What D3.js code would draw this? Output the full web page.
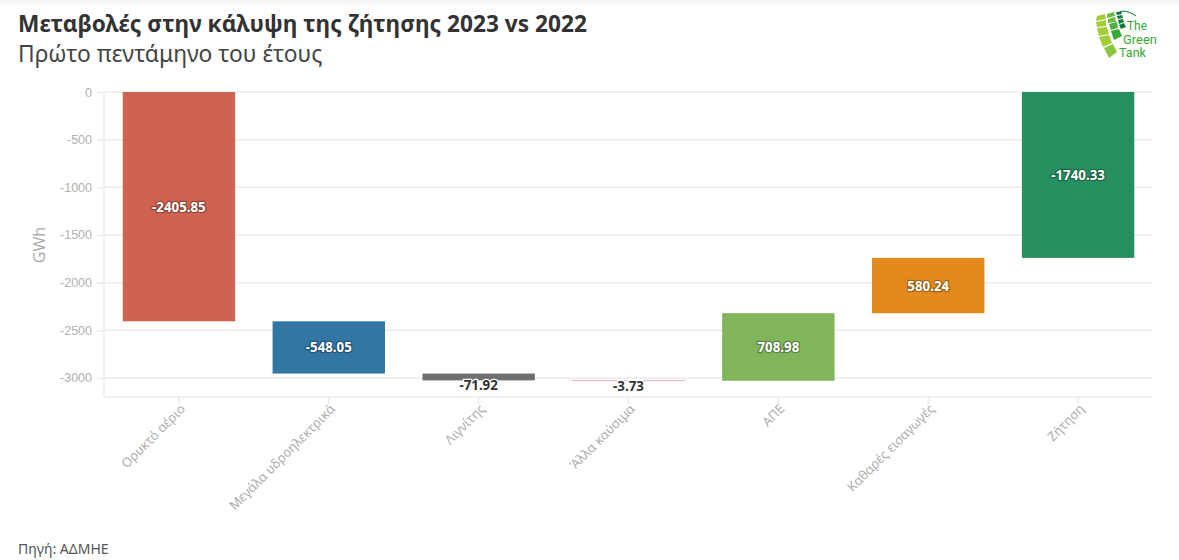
<html>
<head>
<meta charset="utf-8">
<script src="https://cdnjs.cloudflare.com/ajax/libs/d3/7.8.5/d3.min.js"></script>
<style>
  body { margin: 0; background: white; overflow: hidden; }
  svg { display: block; }
  text { font-family: "Noto Sans", "Open Sans", sans-serif; }
  .axis-label { font-family: "Liberation Sans", Arial, sans-serif; font-size: 12.5px; fill: #b0b0b0; }
</style>
</head>
<body>
<div id="chart"></div>
<script>
var categories = ["Ορυκτό αέριο", "Μεγάλα υδροηλεκτρικά", "Λιγνίτης", "Άλλα καύσιμα", "ΑΠΕ", "Καθαρές εισαγωγές", "Ζήτηση"];
var changes = [-2405.85, -548.05, -71.92, -3.73, 708.98, 580.24, -1740.33];
var colors = ["#cf6251", "#3277a3", "#6f6f6f", "#e9b9c9", "#80b55c", "#e38a1e", "#268f60"];
var isTotal = [false, false, false, false, false, false, true];
var yTicks = [0, -500, -1000, -1500, -2000, -2500, -3000];

var W = 1179, H = 560;
var margin = {left: 104, right: 26, top: 92, bottom: 163};

var svg = d3.select("#chart").append("svg").attr("width", W).attr("height", H);

// faint shadow along the top of the page
var grad = svg.append("defs").append("linearGradient")
  .attr("id", "topShade").attr("x1", 0).attr("x2", 0).attr("y1", 0).attr("y2", 1);
grad.append("stop").attr("offset", 0).attr("stop-color", "#f4f4f4");
grad.append("stop").attr("offset", 1).attr("stop-color", "#ffffff");
svg.append("rect").attr("width", W).attr("height", 10).attr("fill", "url(#topShade)");

var x = d3.scaleBand().domain(categories)
  .range([margin.left, W - margin.right]).paddingInner(0.25).paddingOuter(0.125);

// 0 sits on the top edge, the axis line at the bottom is a bit under -3200
var y = d3.scaleLinear().domain([0, -3200]).range([margin.top, 397]);

// running total for the floating bars
var running = 0;
var bars = categories.map(function(c, i) {
  var start = isTotal[i] ? 0 : running;
  var end = start + changes[i];
  if (!isTotal[i]) running = end;
  return {name: c, value: changes[i], start: start, end: end, color: colors[i]};
});

// gridlines
svg.append("g").selectAll("line").data(yTicks).enter().append("line")
  .attr("x1", margin.left).attr("x2", W - margin.right)
  .attr("y1", function(d) { return y(d); }).attr("y2", function(d) { return y(d); })
  .attr("stroke", "#ebebeb").attr("stroke-width", 1.5);

// y axis
var yAxis = svg.append("g").attr("transform", "translate(" + margin.left + ",0)")
  .call(d3.axisLeft(y).tickValues(yTicks).tickSize(7).tickPadding(5).tickFormat(function(d) { return String(d); }));
yAxis.selectAll("text").attr("class", "axis-label");
yAxis.selectAll("line").attr("stroke", "#ebebeb").attr("stroke-width", 1.5);
yAxis.select(".domain").attr("stroke", "#ebebeb").attr("stroke-width", 1.5).attr("d", "M0," + y(0) + "V397");

// x axis
var xAxis = svg.append("g").attr("transform", "translate(0,397)")
  .call(d3.axisBottom(x).tickSize(7).tickPadding(6));
xAxis.select(".domain").attr("stroke", "#ebebeb").attr("stroke-width", 1.5).attr("d", "M" + margin.left + ",0H" + (W - margin.right));
xAxis.selectAll("line").attr("stroke", "#ebebeb").attr("stroke-width", 1.5);
xAxis.selectAll("text")
  .style("font-family", '"Noto Sans", sans-serif').style("font-size", "13px").style("fill", "#adadad")
  .attr("text-anchor", "end").attr("dx", "-4px").attr("dy", "1px")
  .attr("transform", "rotate(-45)");

svg.append("text").attr("transform", "translate(45,245) rotate(-90)")
  .attr("text-anchor", "middle").attr("font-size", 16).attr("fill", "#adadad").text("GWh");

// bars, the thin pink one gets a hairline so it still shows
svg.append("g").selectAll("rect").data(bars).enter().append("rect")
  .attr("x", function(d) { return x(d.name); })
  .attr("width", x.bandwidth())
  .attr("y", function(d) { return y(Math.max(d.start, d.end)); })
  .attr("height", function(d) { return Math.abs(y(d.end) - y(d.start)); })
  .attr("fill", function(d) { return d.color; })
  .attr("stroke", function(d) { return Math.abs(d.value) < 10 ? d.color : "none"; })
  .attr("stroke-width", 0.8);

// value labels: white with a halo inside big bars, dark under small ones
var small = 100;
svg.append("g").selectAll("text").data(bars).enter().append("text")
  .attr("x", function(d) { return x(d.name) + x.bandwidth() / 2; })
  .attr("y", function(d) {
    if (Math.abs(d.value) < small) return y(Math.min(d.start, d.end)) + 10;
    return (y(d.start) + y(d.end)) / 2 + 5;
  })
  .attr("text-anchor", "middle").attr("font-size", 13.3).attr("font-weight", 700)
  .attr("fill", function(d) { return Math.abs(d.value) < small ? "#333333" : "#ffffff"; })
  .style("paint-order", "stroke")
  .style("stroke", function(d) { return Math.abs(d.value) < small ? "#ffffff" : "rgba(0,0,0,0.3)"; })
  .style("stroke-width", "2.5px")
  .text(function(d) { return d3.format(".2f")(d.value).replace("−", "-"); });

// headings
svg.append("text").attr("x", 18).attr("y", 32).attr("font-size", 22.66).attr("font-weight", 700)
  .attr("fill", "#333333").text("Μεταβολές στην κάλυψη της ζήτησης 2023 vs 2022");
svg.append("text").attr("x", 18).attr("y", 62).attr("font-size", 22.8)
  .attr("fill", "#444444").text("Πρώτο πεντάμηνο του έτους");
svg.append("text").attr("x", 18).attr("y", 554).attr("font-size", 14)
  .attr("fill", "#555555").text("Πηγή: ΑΔΜΗΕ");

// logo, small fan of tiles plus the name
var logo = svg.append("g").attr("transform", "translate(1060,0)");
var tiles = [
  ["37,16 45,14 46,19 36,21", "#a3cd39"], ["36,22 46,20 46,26 37,27", "#a3cd39"],
  ["37,28 47,27 49,34 39,36", "#a3cd39"], ["39,37 49,35 52,43 43,47", "#a3cd39"], ["44,48 53,44 57,52 49,58", "#8cc63f"],
  ["47,14 54,12 55,16 47,18", "#6cbb45"], ["48,19 55,17 56,22 48,23", "#6cbb45"],
  ["49,24 57,22 58,28 51,30", "#4fb047"], ["51,31 59,29 62,36 54,40", "#39a935"],
  ["56,12 61,11.5 62,14 57,15", "#0e7a3c"], ["57,16 62,15 63,18 58,19", "#0e7a3c"],
  ["58,20 63,19 64,22 59,24", "#0e7a3c"], ["59,25 64,23 66,27 61,29", "#0e7a3c"]
];
logo.selectAll("polygon").data(tiles).enter().append("polygon")
  .attr("points", function(d) { return d[0]; }).attr("fill", function(d) { return d[1]; });
logo.append("path").attr("d", "M60,11.5Q68,10 76,16").attr("fill", "none").attr("stroke", "#0e7a3c").attr("stroke-width", 1);
var names = ["The", "Green", "Tank"];
logo.selectAll("text.name").data(names).enter().append("text")
  .attr("x", function(d, i) { return [67, 63, 59][i]; })
  .attr("y", function(d, i) { return [30, 43.5, 57][i]; })
  .style("font-family", "Roboto").attr("font-size", 13).attr("fill", "#39a935")
  .attr("textLength", function(d, i) { return [20, 34, 27][i]; })
  .attr("lengthAdjust", "spacingAndGlyphs")
  .text(function(d) { return d; });
</script>
</body>
</html>
